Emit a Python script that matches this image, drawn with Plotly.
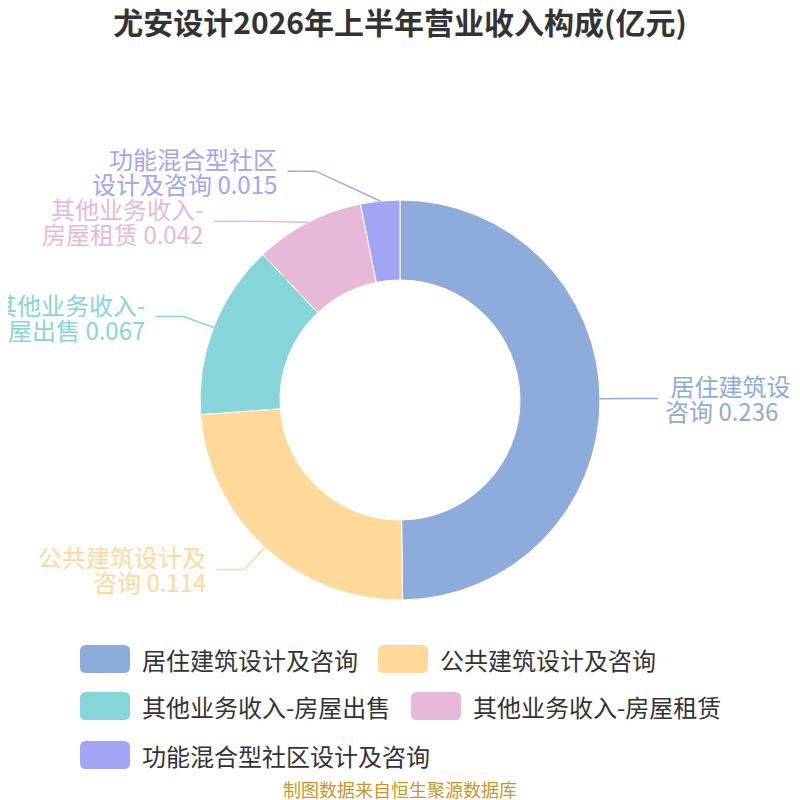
import math
import plotly.graph_objects as go

# data
categories = ['居住建筑设计及咨询', '公共建筑设计及咨询', '其他业务收入-房屋出售',
              '其他业务收入-房屋租赁', '功能混合型社区设计及咨询']
values = [0.236, 0.114, 0.067, 0.042, 0.015]
label_lines = [['\u00a0居住建筑设计及', '咨询'], ['公共建筑设计及', '咨询'],
               ['其他业务收入-', '房屋出售'], ['其他业务收入-', '房屋租赁'],
               ['功能混合型社区', '设计及咨询']]
colors = ['#8EACDB', '#FFD99A', '#86D5D8', '#E6B9D8', '#A2A4F4']

FONT = 'Noto Sans CJK SC'
W = H = 800
OFF = 8          # page body margin of the html page
cx, cy, R = 400, 400, 200
L1, L2 = 30, 28


def px(x, y):
    # screen pixel -> paper coords
    return (x - OFF) / W, 1 - (y - OFF) / H


d0, d1 = px(cx - R, cy - R), px(cx + R, cy + R)
fig = go.Figure(go.Pie(
    labels=categories, values=values, hole=0.6, sort=False,
    direction='clockwise', rotation=0, textinfo='none',
    marker=dict(colors=colors, line=dict(color='white', width=1)),
    domain=dict(x=[d0[0], d1[0]], y=[d1[1], d0[1]]),
    showlegend=False,
))

# outside labels with leader lines (echarts-like layout)
total = sum(values)
items = []
cum = 0
for i, v in enumerate(values):
    mid = (cum + v / 2) / total * 2 * math.pi
    cum += v
    side = 1 if math.sin(mid) >= 0 else -1
    items.append(dict(i=i, side=side, shifted=False,
                      ex0=cx + R * math.sin(mid), ey0=cy - R * math.cos(mid),
                      bx=cx + (R + L1) * math.sin(mid),
                      ly=cy - (R + L1) * math.cos(mid)))

for side in (1, -1):
    grp = sorted([it for it in items if it['side'] == side], key=lambda t: t['ly'])
    for a, b in zip(grp, grp[1:]):
        if b['ly'] - a['ly'] < 50:
            b['ly'] = a['ly'] + 50
            b['shifted'] = True
    # re-place x of shifted half (upper / lower) on an ellipse
    for upper in (True, False):
        semi = [t for t in grp if (t['ly'] < cy) == upper]
        if not any(t['shifted'] for t in semi):
            continue
        ry = max(abs(t['ly'] - cy) for t in semi) * 1.075
        for t in semi:
            dy = t['ly'] - cy
            t['bx'] = cx + side * (R + L1) * math.sqrt(max(0, 1 - (dy / ry) ** 2))

for t in items:
    i, side = t['i'], t['side']
    ex = t['bx'] + side * L2
    p0, p1, p2 = px(t['ex0'], t['ey0']), px(t['bx'], t['ly']), px(ex, t['ly'])
    fig.add_shape(type='path', xref='paper', yref='paper',
                  path=f'M {p0[0]},{p0[1]} L {p1[0]},{p1[1]} L {p2[0]},{p2[1]}',
                  line=dict(color=colors[i], width=1.5))
    lines = [label_lines[i][0], f'{label_lines[i][1]} {values[i]:.3f}']
    for k, s in enumerate(lines):
        tx, ty = px(ex + side * (5 if side > 0 else 9), t['ly'] + (k - 0.5) * 25)
        fig.add_annotation(text=s, x=tx, y=ty, xref='paper', yref='paper',
                           xanchor='left' if side > 0 else 'right', yanchor='middle',
                           showarrow=False,
                           font=dict(family=FONT, size=24, color=colors[i]))

# custom legend with rounded swatches
legend_rows = [[0, 1], [2, 3], [4]]
legend_x = [[80, 378], [80, 411], [80]]
row_y = [659, 706, 755]
bw, bh, rr = 50, 28, 6
for r, row in enumerate(legend_rows):
    for k, i in enumerate(row):
        x0, y0 = legend_x[r][k], row_y[r] - bh / 2
        x1, y1 = x0 + bw, y0 + bh
        pts = [px(x0 + rr, y0), px(x1 - rr, y0), px(x1, y0 + rr), px(x1, y1 - rr),
               px(x1 - rr, y1), px(x0 + rr, y1), px(x0, y1 - rr), px(x0, y0 + rr)]
        c = [px(x1, y0), px(x1, y1), px(x0, y1), px(x0, y0)]
        path = (f'M {pts[0][0]},{pts[0][1]} L {pts[1][0]},{pts[1][1]} '
                f'Q {c[0][0]},{c[0][1]} {pts[2][0]},{pts[2][1]} '
                f'L {pts[3][0]},{pts[3][1]} '
                f'Q {c[1][0]},{c[1][1]} {pts[4][0]},{pts[4][1]} '
                f'L {pts[5][0]},{pts[5][1]} '
                f'Q {c[2][0]},{c[2][1]} {pts[6][0]},{pts[6][1]} '
                f'L {pts[7][0]},{pts[7][1]} '
                f'Q {c[3][0]},{c[3][1]} {pts[0][0]},{pts[0][1]} Z')
        fig.add_shape(type='path', xref='paper', yref='paper', path=path,
                      fillcolor=colors[i], line=dict(width=0))
        tx, ty = px(x1 + 10, row_y[r])
        fig.add_annotation(text=categories[i], x=tx, y=ty, xref='paper', yref='paper',
                           xanchor='left', yanchor='middle', showarrow=False,
                           font=dict(family=FONT, size=24, color='#333333'))

sx, sy = px(400, 789)
fig.add_annotation(text='制图数据来自恒生聚源数据库', x=sx, y=sy, xref='paper', yref='paper',
                   xanchor='center', yanchor='middle', showarrow=False,
                   font=dict(family=FONT, size=18, color='#C9962B'))

fig.update_layout(
    width=W, height=H,
    margin=dict(l=0, r=0, t=0, b=0),
    paper_bgcolor='white',
    title=dict(text='<b>尤安设计2026年上半年营业收入构成(亿元)</b>', x=px(400, 0)[0],
               y=px(0, 23)[1], xanchor='center', yanchor='middle',
               font=dict(family=FONT, size=30, color='#333333')),
)

fig.write_html('out.html')
